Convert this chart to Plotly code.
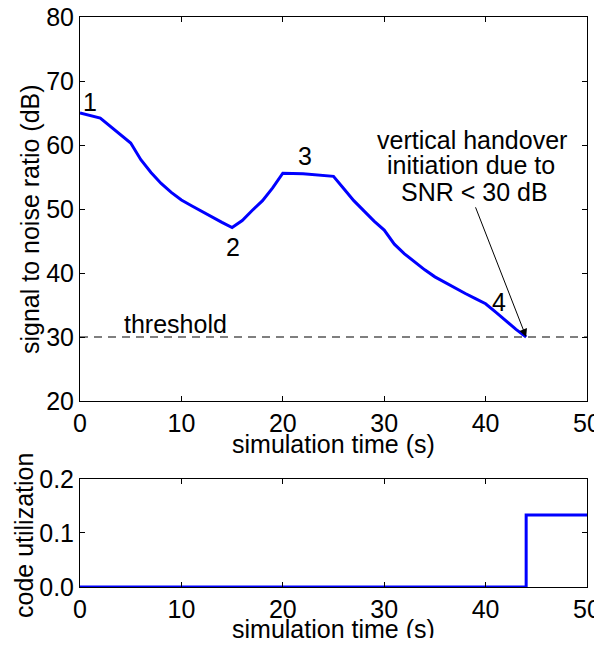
import plotly.graph_objects as go
from plotly.subplots import make_subplots

# SNR curve (top panel)
time_s = [0, 2, 5, 6, 7, 8, 9, 10, 11, 12, 13, 14, 15, 16, 17, 18, 19, 20, 22, 25,
          26, 27, 28, 29, 30, 31, 32, 33, 34, 35, 36, 37, 38, 39, 40, 41, 42, 43, 44]
snr_db = [65.0, 64.2, 60.3, 57.7, 55.7, 54.0, 52.6, 51.4, 50.5, 49.6, 48.8, 47.9, 47.1,
          48.2, 49.8, 51.3, 53.3, 55.6, 55.5, 55.1,
          53.2, 51.3, 49.7, 48.1, 46.7, 44.5, 43.0, 41.7, 40.5, 39.4, 38.5, 37.6, 36.8,
          36.0, 35.2, 33.9, 32.5, 31.2, 30.0]

threshold_x = [0, 50]
threshold_y = [30, 30]

# code utilization (bottom panel)
code_t = [0, 44, 44, 50]
code_u = [0, 0, 0.1333, 0.1333]

x_ticks = [0, 10, 20, 30, 40, 50]
snr_ticks = [20, 30, 40, 50, 60, 70, 80]
code_ticks = [0, 0.1, 0.2]

point_labels = ["1", "2", "3", "4"]
point_x = [1.0, 15.1, 22.2, 41.3]
point_y = [66.7, 44.1, 58.3, 35.4]

note_lines = ["vertical handover", "initiation due to", "SNR &lt; 30 dB"]
note_x = [38.7, 38.6, 38.95]
note_y = [60.8, 56.9, 52.7]

FONT = "Liberation Sans, Arial, sans-serif"
FS = 25
BLUE = "#0000ff"
TXT = dict(family=FONT, size=FS, color="black")

fig = make_subplots(rows=2, cols=1, shared_xaxes=False)

fig.add_trace(go.Scatter(x=threshold_x, y=threshold_y, mode="lines",
                         line=dict(color="black", width=1.2, dash="8px,6px"),
                         showlegend=False, hoverinfo="skip"), row=1, col=1)
fig.add_trace(go.Scatter(x=time_s, y=snr_db, mode="lines",
                         line=dict(color=BLUE, width=3),
                         showlegend=False), row=1, col=1)
fig.add_trace(go.Scatter(x=code_t, y=code_u, mode="lines",
                         line=dict(color=BLUE, width=3),
                         showlegend=False, cliponaxis=False), row=2, col=1)

axis_common = dict(showgrid=False, zeroline=False, showline=True, linecolor="black",
                   linewidth=1, mirror="ticks", ticks="inside", ticklen=5,
                   tickcolor="black", automargin=False, ticklabeloverflow="allow",
                   tickfont=TXT)

fig.update_xaxes(range=[0, 50], tickvals=x_ticks, **axis_common)
fig.update_yaxes(**axis_common)
fig.update_yaxes(range=[20, 80], tickvals=snr_ticks, row=1, col=1)
fig.update_yaxes(range=[0, 0.2], tickvals=code_ticks, tickformat=".1f", row=2, col=1)

fig.update_layout(
    width=594, height=630,
    margin=dict(l=72, r=15, t=9, b=51),
    paper_bgcolor="white", plot_bgcolor="white",
    font=TXT,
    xaxis=dict(domain=[0, 1]), xaxis2=dict(domain=[0, 1]),
    yaxis=dict(domain=[0.3263, 1.0]), yaxis2=dict(domain=[0.0, 0.1895]),
)

# axis titles
fig.add_annotation(x=0.5, y=0.2509, xref="paper", yref="paper", text="simulation time (s)",
                   showarrow=False, xanchor="center", yanchor="middle", font=TXT)
fig.add_annotation(x=0.5, y=-0.0745, xref="paper", yref="paper", text="simulation time (s)",
                   showarrow=False, xanchor="center", yanchor="middle", font=TXT)
fig.add_annotation(x=-0.0986, y=0.6456, xref="paper", yref="paper",
                   text="signal to noise ratio (dB)", textangle=-90,
                   showarrow=False, xanchor="center", yanchor="middle", font=TXT)
fig.add_annotation(x=-0.1105, y=0.0912, xref="paper", yref="paper",
                   text="code utilization", textangle=-90,
                   showarrow=False, xanchor="center", yanchor="middle", font=TXT)

for lab, px, py in zip(point_labels, point_x, point_y):
    fig.add_annotation(x=px, y=py, xref="x", yref="y", text=lab, showarrow=False, font=TXT)

fig.add_annotation(x=9.4, y=32.1, xref="x", yref="y", text="threshold",
                   showarrow=False, font=TXT)

for line, lx, ly in zip(note_lines, note_x, note_y):
    fig.add_annotation(x=lx, y=ly, xref="x", yref="y", text=line,
                       showarrow=False, font=TXT)

fig.add_annotation(x=44, y=30, xref="x", yref="y", ax=38.95, ay=50.5,
                   axref="x", ayref="y", text="", showarrow=True,
                   arrowhead=2, arrowsize=1.6, arrowwidth=1, arrowcolor="black",
                   standoff=0)

fig.write_html("out.html")
